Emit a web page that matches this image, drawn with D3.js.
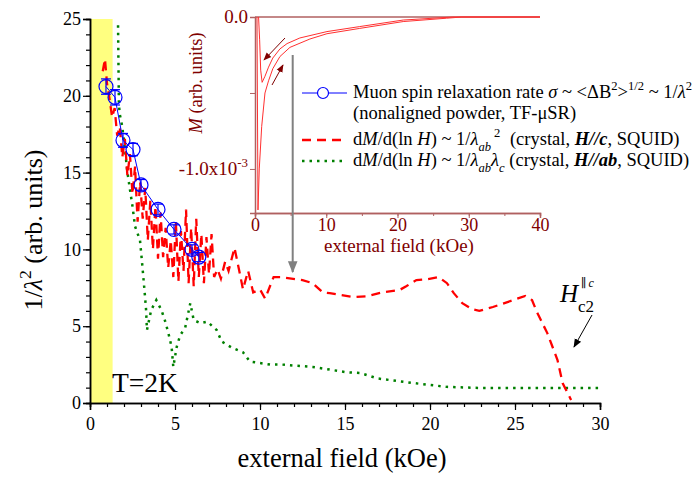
<!DOCTYPE html>
<html><head><meta charset="utf-8">
<script src="https://cdn.jsdelivr.net/npm/d3@7"></script>
<style>
body{margin:0;background:#fff;}
svg, svg text{font-family:"Liberation Serif","Tinos","Times New Roman",Times,"DejaVu Serif",serif;}
</style></head><body>
<svg id="c" width="697" height="477"></svg>
<script>
// ---------- DATA ----------
const muonField = [0.94, 1.47, 1.94, 2.53, 3.0, 4.0, 4.94, 6.0, 6.4];
const muonValue = [20.6, 19.9, 17.1, 16.5, 14.2, 12.6, 11.3, 10.0, 9.5];
const muonErr   = [0.5, 0.5, 0.45, 0.4, 0.35, 0.35, 0.3, 0.3, 0.3];

const redField = [0.75,0.88,1.0,1.15,1.3,1.45,1.6,1.75,1.9,2.05,2.2,2.35,2.5,2.65,2.8,2.95,3.1,3.25,3.4,3.55,3.7,3.85,4.0,4.15,4.3,4.45,4.6,4.75,4.9,5.05,5.2,5.35,5.5,5.65,5.8,5.95,6.1,6.25,6.4,6.55,6.7,6.85,7.0,7.15,7.3,7.5,7.7,7.95,8.15,8.5,8.8,9.0,9.3,9.6,10.0,10.3,10.8,11.2,12.5,13.1,13.7,14.1,15.5,16.3,17.2,18.2,18.6,19.2,19.8,20.5,21.0,21.4,21.9,22.5,22.9,23.7,24.9,25.6,26.0,26.3,26.9,27.5,27.8,28.3];
const redValue = [21.6,22.4,20.8,19.8,18.6,19.2,17.4,18.0,16.0,17.2,14.8,16.2,13.6,15.4,11.8,14.4,12.0,14.0,10.6,13.2,10.0,12.8,9.4,12.4,9.5,11.4,8.8,10.6,8.2,11.8,7.9,11.2,8.6,12.6,7.8,11.4,7.6,12.0,8.2,11.0,7.8,10.8,8.4,11.0,8.2,8.7,8.1,9.2,8.6,10.1,8.5,7.4,8.6,7.2,7.4,6.8,8.2,8.2,8.0,7.8,7.2,7.15,6.9,6.95,7.2,7.35,7.6,8.0,8.05,8.2,7.8,7.15,6.5,6.1,6.0,6.25,6.7,6.97,6.7,5.9,4.55,2.8,1.3,0.2];

const greenField = [1.65,1.68,1.7,1.76,1.88,1.94,2.06,2.18,2.35,2.5,2.65,2.94,3.05,3.2,3.3,3.35,3.6,3.9,4.2,4.4,4.6,4.8,4.9,5.1,5.3,5.6,5.9,6.1,6.5,6.9,7.45,7.75,8.35,9.0,9.4,10.0,10.6,11.3,13.1,15.1,15.9,16.9,17.6,19.0,21.0,22.9,30.0];
const greenValue = [24.6,21.5,19.4,18.75,18.1,17.6,16.5,15.2,13.9,12.8,11.5,10.6,9.3,7.4,6.05,4.75,6.05,6.7,6.05,5.4,4.6,3.65,2.35,3.65,4.4,4.9,6.5,5.4,5.2,5.3,4.75,4.0,3.6,3.3,2.7,2.6,2.5,2.5,2.35,2.0,1.95,1.6,1.5,1.3,1.05,0.98,0.98];

// inset: magnetization loop (M in units of 1e-3)
const insetDownField = [40,27.8,20.8,14.7,10.1,6.3,4.5,3.5,2.5,1.9,1.4,1.0,0.8,0.65,0.5];
const insetDownM     = [0,0,-0.02,-0.063,-0.096,-0.138,-0.175,-0.21,-0.27,-0.33,-0.39,-0.43,-0.35,-0.15,0];
const insetUpField   = [0.28,0.42,0.6,0.94,1.4,1.9,2.5,3.5,4.9,7.7,10.1,14.7,20.8,26.9,29,40];
const insetUpM       = [0,-1.27,-1.0,-0.72,-0.5,-0.42,-0.34,-0.26,-0.2,-0.145,-0.11,-0.075,-0.03,-0.008,0,0];

const xTickLabels = [0,5,10,15,20,25,30];
const yTickLabels = [0,5,10,15,20,25];
const insetXTickLabels = [0,10,20,30,40];

const FONT = "'Liberation Serif','Tinos','Times New Roman',Times,'DejaVu Serif',serif";

// ---------- SCALES ----------
const svg = d3.select("#c").attr("font-family",FONT);
const x = d3.scaleLinear().domain([0,30]).range([90,600]);
const y = d3.scaleLinear().domain([0,25]).range([403,19]);
const ix = d3.scaleLinear().domain([0,40]).range([255,540]);
const iy = d3.scaleLinear().domain([-1.29,0]).range([213,17]);

// defs
const defs = svg.append("defs");
function marker(id,color,size){
  defs.append("marker").attr("id",id).attr("viewBox","0 0 10 10").attr("refX",9).attr("refY",5)
    .attr("markerWidth",size).attr("markerHeight",size).attr("orient","auto").attr("markerUnits","userSpaceOnUse")
    .append("path").attr("d","M0,1 L10,5 L0,9 Z").attr("fill",color);
}
marker("arrGray","#808080",12);
marker("arrRed","#800000",8);
marker("arrBlack","#000",9);

// yellow band
svg.append("rect").attr("x",x(0)).attr("y",y(25)).attr("width",x(1.33)-x(0)).attr("height",y(0)-y(25)).attr("fill","#ffff80");

// green dotted
const line = d3.line().x(d=>x(d[0])).y(d=>y(d[1]));
svg.append("path").datum(d3.zip(greenField,greenValue)).attr("d",line)
  .attr("fill","none").attr("stroke","#008000").attr("stroke-width",2.5).attr("stroke-dasharray","2.5,5");
// red dashed
svg.append("path").datum(d3.zip(redField,redValue)).attr("d",line)
  .attr("fill","none").attr("stroke","#ff0000").attr("stroke-width",2.3).attr("stroke-dasharray","9,6");
// blue muon
svg.append("path").datum(d3.zip(muonField,muonValue)).attr("d",line)
  .attr("fill","none").attr("stroke","#0000ff").attr("stroke-width",1);
const mu = svg.append("g").attr("stroke","#0000ff").attr("fill","none").attr("stroke-width",1.2);
muonField.forEach((f,i)=>{
  const cx=x(f), v=muonValue[i], e=muonErr[i];
  mu.append("line").attr("x1",cx).attr("x2",cx).attr("y1",y(v-e)).attr("y2",y(v+e));
  mu.append("line").attr("x1",cx-5).attr("x2",cx+5).attr("y1",y(v-e)).attr("y2",y(v-e));
  mu.append("line").attr("x1",cx-5).attr("x2",cx+5).attr("y1",y(v+e)).attr("y2",y(v+e));
  mu.append("circle").attr("cx",cx).attr("cy",y(v)).attr("r",7);
});

// main axes
const fs = 18;
const gx = svg.append("g").attr("transform",`translate(0,${y(0)})`);
gx.call(d3.axisBottom(x).tickValues(d3.range(0,31,1)).tickSize(4).tickFormat(""));
gx.call(g=>g.append("g").call(d3.axisBottom(x).tickValues(xTickLabels).tickSize(7).tickFormat(d3.format("d"))));
gx.selectAll("text").attr("font-size",fs).attr("font-family",FONT).attr("fill","#000").attr("dy","0.95em");
const gy = svg.append("g").attr("transform",`translate(${x(0)},0)`);
gy.call(d3.axisLeft(y).tickValues(d3.range(0,26,1)).tickSize(4).tickFormat(""));
gy.call(g=>g.append("g").call(d3.axisLeft(y).tickValues(yTickLabels).tickSize(7).tickFormat(d3.format("d"))));
gy.selectAll("text").attr("font-size",fs).attr("font-family",FONT).attr("fill","#000").attr("x",-9);
svg.selectAll("g").filter(function(){return this.getAttribute("font-family")==="sans-serif";}).attr("font-family",FONT);
svg.selectAll(".domain").attr("stroke-width",1.5);
svg.selectAll(".tick line").attr("stroke-width",1.2);

// rich text helper
function rich(sel, parts, size){
  let cur = 0;
  parts.forEach(p=>{
    const t = sel.append("tspan").text(p.t);
    let target = 0, fsz = size;
    if(p.s==="sup"){target=-size*0.42; fsz=size*0.68;}
    if(p.s==="sub"){target=size*0.3; fsz=size*0.68;}
    t.attr("dy",target-cur).attr("font-size",fsz);
    if(p.dx) t.attr("dx",p.dx);
    cur = target;
    if(p.i) t.attr("font-style","italic");
    if(p.b) t.attr("font-weight","bold");
  });
  return sel;
}

// axis titles
svg.append("text").attr("x",342).attr("y",467).attr("text-anchor","middle").attr("font-size",26.5).text("external field (kOe)");
rich(svg.append("text").attr("transform","translate(42,230) rotate(-90)").attr("text-anchor","middle").attr("font-size",26),
  [{t:"1/"},{t:"λ",i:1},{t:"2",s:"sup"},{t:" (arb. units)"}],26);

svg.append("text").attr("x",112).attr("y",392).attr("font-size",27.5).text("T=2K");

// Hc2 label
const hl = svg.append("text").attr("x",560).attr("y",302).attr("font-size",25);
hl.append("tspan").attr("font-style","italic").text("H");
hl.append("tspan").attr("font-size",17).attr("dy",10).text("c2");
svg.append("text").attr("x",581).attr("y",287).attr("font-size",12).text("∥").append("tspan").attr("font-style","italic").attr("dx",2).text("c");
svg.append("line").attr("x1",592).attr("y1",315).attr("x2",574).attr("y2",347).attr("stroke","#000").attr("stroke-width",1).attr("marker-end","url(#arrBlack)");

// ---------- INSET ----------
const inset = svg.append("g");
const iaxisColor = "#b06060", ilabColor = "#800000";
const iline = d3.line().x(d=>ix(d[0])).y(d=>iy(d[1]));
inset.append("line").attr("x1",ix(0)).attr("x2",ix(40)).attr("y1",iy(0)).attr("y2",iy(0)).attr("stroke",iaxisColor).attr("stroke-width",1.5);
inset.append("path").datum(d3.zip(insetUpField,insetUpM)).attr("d",iline).attr("fill","none").attr("stroke","#ff3030").attr("stroke-width",1);
inset.append("path").datum(d3.zip(insetDownField,insetDownM)).attr("d",iline).attr("fill","none").attr("stroke","#ff3030").attr("stroke-width",1);
const ixa = inset.append("g").attr("transform",`translate(0,${iy(-1.29)})`);
ixa.call(d3.axisBottom(ix).tickValues(d3.range(0,41,5)).tickSize(3).tickFormat(""));
ixa.call(g=>g.append("g").call(d3.axisBottom(ix).tickValues(insetXTickLabels).tickSize(5).tickFormat(d3.format("d"))));
const iya = inset.append("g").attr("transform",`translate(${ix(0)},0)`);
iya.call(d3.axisLeft(iy).tickValues([0,-0.5,-1.0]).tickSize(5).tickFormat(""));
inset.selectAll("g").attr("font-family",FONT);
inset.selectAll(".domain").attr("stroke",iaxisColor).attr("stroke-width",1.5);
inset.selectAll(".tick line").attr("stroke",iaxisColor);
ixa.selectAll("text").attr("font-size",18).attr("font-family",FONT).attr("fill",ilabColor).attr("y",4).attr("dy","0.8em");
inset.append("text").attr("x",248).attr("y",iy(0)+6).attr("text-anchor","end").attr("font-size",19).attr("fill",ilabColor).text("0.0");
rich(inset.append("text").attr("x",248).attr("y",iy(-1.0)+6).attr("text-anchor","end").attr("font-size",19).attr("fill",ilabColor),
  [{t:"-1.0x10"},{t:"-3",s:"sup"}],19);
inset.append("text").attr("x",399).attr("y",252).attr("text-anchor","middle").attr("font-size",19).attr("fill",ilabColor).text("external field (kOe)");
rich(inset.append("text").attr("transform","translate(202,83) rotate(-90)").attr("text-anchor","middle").attr("font-size",18.5).attr("fill",ilabColor),
  [{t:"M",i:1},{t:" (arb. units)"}],18.5);
inset.append("line").attr("x1",285).attr("y1",38).attr("x2",264).attr("y2",60).attr("stroke","#800000").attr("stroke-width",1).attr("marker-end","url(#arrRed)");
inset.append("line").attr("x1",272).attr("y1",85).attr("x2",283).attr("y2",65).attr("stroke","#800000").attr("stroke-width",1).attr("marker-end","url(#arrRed)");

// gray arrow
svg.append("line").attr("x1",292.7).attr("y1",55).attr("x2",292.7).attr("y2",272).attr("stroke","#808080").attr("stroke-width",2).attr("marker-end","url(#arrGray)");

// ---------- LEGEND ----------
const lg = svg.append("g");
const lfs = 18.5, lx = 353;
lg.append("line").attr("x1",302).attr("x2",347).attr("y1",93).attr("y2",93).attr("stroke","#0000ff").attr("stroke-width",1);
lg.append("circle").attr("cx",323).attr("cy",93).attr("r",5.5).attr("fill","#fff").attr("stroke","#0000ff").attr("stroke-width",1.2);
lg.append("line").attr("x1",302).attr("x2",347).attr("y1",140).attr("y2",140).attr("stroke","#ff0000").attr("stroke-width",2.3).attr("stroke-dasharray","9,6");
lg.append("line").attr("x1",302).attr("x2",347).attr("y1",161).attr("y2",161).attr("stroke","#008000").attr("stroke-width",2.5).attr("stroke-dasharray","2.5,5");
rich(lg.append("text").attr("x",lx).attr("y",98).attr("font-size",lfs),
  [{t:"Muon spin relaxation rate "},{t:"σ",i:1},{t:" ~ <ΔB"},{t:"2",s:"sup"},{t:">"},{t:"1/2",s:"sup"},{t:" ~ 1/"},{t:"λ",i:1},{t:"2",s:"sup"}],lfs);
lg.append("text").attr("x",lx).attr("y",119).attr("font-size",lfs).text("(nonaligned powder, TF-μSR)");
rich(lg.append("text").attr("x",lx).attr("y",145).attr("font-size",lfs),
  [{t:"d"},{t:"M",i:1},{t:"/d(ln "},{t:"H",i:1},{t:") ~ 1/"},{t:"λ",i:1},{t:"ab",s:"sub",i:1},{t:"2",s:"sup",dx:3},{t:" (crystal, ",dx:5},{t:"H//c",i:1,b:1},{t:", SQUID)"}],lfs);
rich(lg.append("text").attr("x",lx).attr("y",166).attr("font-size",lfs),
  [{t:"d"},{t:"M",i:1},{t:"/d(ln "},{t:"H",i:1},{t:") ~ 1/"},{t:"λ",i:1},{t:"ab",s:"sub",i:1},{t:"λ",i:1},{t:"c",s:"sub",i:1},{t:" (crystal, "},{t:"H//ab",i:1,b:1},{t:", SQUID)"}],lfs);
</script>
</body></html>
